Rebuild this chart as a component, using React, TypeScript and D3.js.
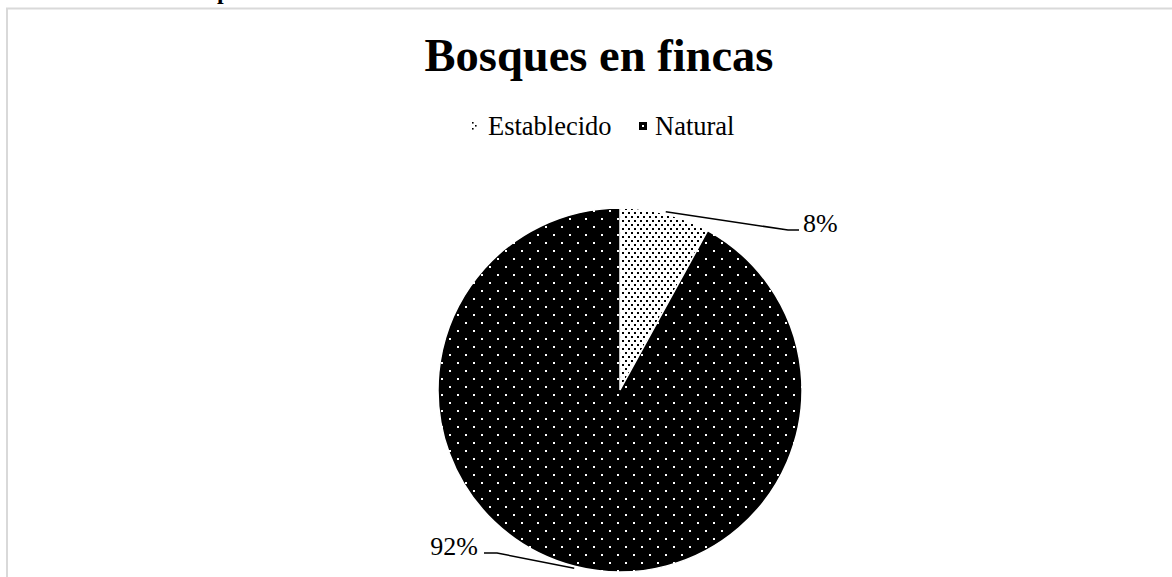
import React from "react";
import * as d3 from "d3";

const categories = ["Establecido", "Natural"];
const values = [8, 92];
const labels = ["8%", "92%"];

const W = 1172;
const H = 577;
const cx = 620;
const cy = 390;
const R = 182;

export default function App() {
  const pie = d3.pie<number>().sort(null).startAngle(0).endAngle(2 * Math.PI);
  const arcs = pie(values);
  const arcGen = d3.arc<d3.PieArcDatum<number>>().innerRadius(0).outerRadius(R);
  const fills = ["url(#patLight)", "url(#patDark)"];

  const leaderLayout = [
    { elbow: [788, 230], end: [799, 230], tx: 803, ty: 232, anchor: "start" },
    { elbow: [497, 553], end: [484, 553], tx: 478, ty: 555, anchor: "end" },
  ];

  const legendItems = [
    { x: 472, tx: 488 },
    { x: 639, tx: 655 },
  ];

  return (
    <svg
      width={W}
      height={H}
      style={{ position: "absolute", left: 0, top: 0, background: "#fff" }}
      fontFamily="'Liberation Serif', 'Times New Roman', serif"
    >
      <defs>
        <pattern id="patDark" width={16} height={16} patternUnits="userSpaceOnUse" x={cx + 1} y={cy - 2}>
          <rect width={16} height={16} fill="#000" />
          <rect x={0} y={0} width={2} height={2} fill="#fff" />
          <rect x={8} y={8} width={2} height={2} fill="#fff" />
        </pattern>
        <pattern id="patLight" width={6} height={8} patternUnits="userSpaceOnUse" x={cx} y={cy}>
          <rect width={6} height={8} fill="#fff" />
          <rect x={0} y={0} width={2} height={2} fill="#000" />
          <rect x={3} y={4} width={2} height={2} fill="#000" />
        </pattern>
        <pattern id="patLegendDark" width={8} height={8} patternUnits="userSpaceOnUse" x={639} y={122}>
          <rect width={8} height={8} fill="#000" />
          <rect x={3} y={3} width={2} height={2} fill="#fff" />
        </pattern>
      </defs>

      <rect x={0} y={0} width={W} height={H} fill="#fff" />
      <rect x={7} y={8.5} width={1300} height={700} fill="none" stroke="#d9d9d9" strokeWidth={2} />

      <text x={217} y={-1} fontSize={24} fontWeight="bold" fill="#000">p</text>

      <text x={599} y={71} textAnchor="middle" fontSize={46.5} fontWeight="bold" fill="#000">
        Bosques en fincas
      </text>

      {categories.map((c, i) => (
        <g key={c}>
          {i === 0 ? (
            <g fill="#000">
              <rect x={legendItems[i].x} y={122} width={1.6} height={1.6} />
              <rect x={legendItems[i].x + 3} y={125} width={1.6} height={1.6} />
              <rect x={legendItems[i].x} y={128} width={1.6} height={1.6} />
            </g>
          ) : (
            <rect x={legendItems[i].x} y={122} width={8} height={8} fill="url(#patLegendDark)" />
          )}
          <text x={legendItems[i].tx} y={135} fontSize={26.5} fill="#000">
            {c}
          </text>
        </g>
      ))}

      <g transform={`translate(${cx},${cy})`}>
        {arcs.map((a, i) => (
          <path key={i} d={arcGen(a) || ""} fill={fills[i]} stroke="#fff" strokeWidth={1.5} />
        ))}
      </g>

      {arcs.map((a, i) => {
        const mid = (a.startAngle + a.endAngle) / 2;
        const r0 = R + 2;
        const sx = cx + r0 * Math.sin(mid);
        const sy = cy - r0 * Math.cos(mid);
        const L = leaderLayout[i];
        return (
          <g key={"l" + i}>
            <polyline
              points={`${sx},${sy} ${L.elbow[0]},${L.elbow[1]} ${L.end[0]},${L.end[1]}`}
              fill="none"
              stroke="#000"
              strokeWidth={1.5}
            />
            <text x={L.tx} y={L.ty} fontSize={26} textAnchor={L.anchor as any} fill="#000">
              {labels[i]}
            </text>
          </g>
        );
      })}
    </svg>
  );
}
